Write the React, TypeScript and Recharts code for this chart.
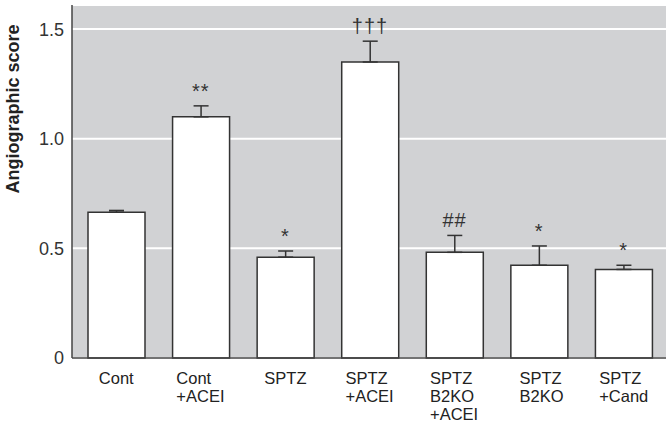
import {
  Bar,
  CartesianGrid,
  ComposedChart,
  ErrorBar,
  LabelList,
  Line,
  XAxis,
  YAxis,
} from "recharts";

const categories = [
  "Cont",
  "Cont\n+ACEI",
  "SPTZ",
  "SPTZ\n+ACEI",
  "SPTZ\nB2KO\n+ACEI",
  "SPTZ\nB2KO",
  "SPTZ\n+Cand",
];
const means = [0.665, 1.1, 0.46, 1.35, 0.482, 0.423, 0.404];
const errors = [0.008, 0.05, 0.028, 0.095, 0.077, 0.088, 0.019];
const marks = ["", "**", "*", "†††", "##", "*", "*"];
const yTicks = [0, 0.5, 1, 1.5];

const data = categories.map((name, i) => ({
  name,
  score: means[i],
  err: [0, errors[i]],
  top: means[i] + errors[i],
  mark: marks[i],
}));

const FONT = "'Liberation Sans', Arial, sans-serif";

function XTick({ x, y, payload }: any) {
  const lines: string[] = String(payload.value).split("\n");
  const widest = Math.max(...lines.map((l) => l.length));
  const startX = lines.length > 1 ? x - (widest * 9.8) / 2 : x;
  return (
    <text
      x={startX}
      y={y + 18}
      fontFamily={FONT}
      fontSize={16.5}
      fill="#222"
      textAnchor={lines.length > 1 ? "start" : "middle"}
    >
      {lines.map((l, i) => (
        <tspan key={i} x={startX} dy={i === 0 ? 0 : 18}>
          {l}
        </tspan>
      ))}
    </text>
  );
}

function YTitle() {
  return (
    <text
      x={19}
      y={109}
      transform="rotate(-90 19 109)"
      textAnchor="middle"
      fontFamily={FONT}
      fontWeight="bold"
      fontSize={18}
      fill="#222"
    >
      Angiographic score
    </text>
  );
}

export default function App() {
  return (
    <div style={{ position: "absolute", left: 0, top: 0 }}>
      <ComposedChart
        width={666}
        height={423}
        data={data}
        margin={{ top: 5, right: 0, left: 0, bottom: 0 }}
        barCategoryGap={14}
      >
        <CartesianGrid
          vertical={false}
          fill="#d1d2d4"
          fillOpacity={1}
          stroke="#ffffff"
          strokeWidth={2}
        />
        <XAxis
          dataKey="name"
          height={65}
          interval={0}
          tickLine={false}
          axisLine={{ stroke: "#444", strokeWidth: 1.5 }}
          tick={<XTick />}
          padding={{ left: 2, right: 0 }}
        />
        <YAxis
          width={72}
          domain={[0, 1.61]}
          ticks={yTicks}
          tickLine={false}
          axisLine={{ stroke: "#444", strokeWidth: 1.5 }}
          tick={{ fontFamily: FONT, fontSize: 18, fill: "#333" }}
          tickFormatter={(v: number) => (v === 0 ? "0" : v.toFixed(1))}
          label={<YTitle />}
        />
        <Bar
          dataKey="score"
          fill="#ffffff"
          stroke="#333"
          strokeWidth={1.5}
          isAnimationActive={false}
        >
          <ErrorBar
            dataKey="err"
            direction="y"
            width={7.5}
            stroke="#333"
            strokeWidth={1.5}
          />
        </Bar>
        <Line
          dataKey="top"
          stroke="none"
          dot={false}
          activeDot={false}
          isAnimationActive={false}
        >
          <LabelList
            dataKey="mark"
            position="top"
            offset={8}
            fontFamily={FONT}
            fontSize={20}
            fill="#333"
            letterSpacing={1}
          />
        </Line>
      </ComposedChart>
    </div>
  );
}
